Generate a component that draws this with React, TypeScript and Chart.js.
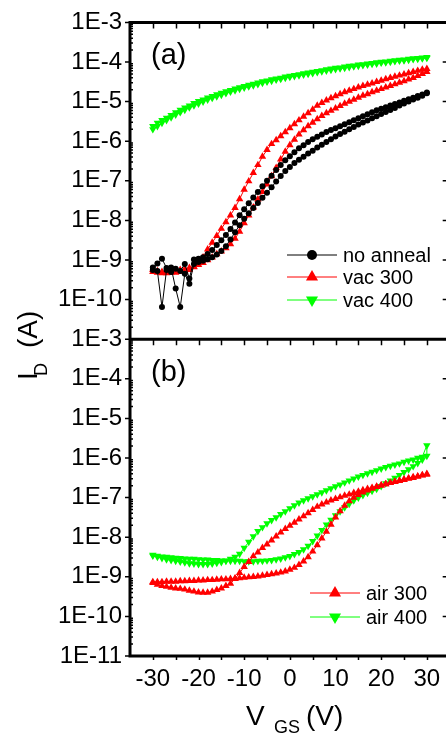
import React, { useEffect, useRef } from 'react';
import { Chart, registerables } from 'chart.js';

Chart.register(...registerables);

// Gate voltage sweep points (V)
const VGS = [
  -30, -29, -28, -27, -26, -25, -24, -23, -22, -21,
  -20, -19, -18, -17, -16, -15, -14, -13, -12, -11,
  -10, -9, -8, -7, -6, -5, -4, -3, -2, -1,
  0, 1, 2, 3, 4, 5, 6, 7, 8, 9,
  10, 11, 12, 13, 14, 15, 16, 17, 18, 19,
  20, 21, 22, 23, 24, 25, 26, 27, 28, 29,
  30,
];

// Axis ticks
const X_TICKS = [-30, -20, -10, 0, 10, 20, 30];
const X_TICK_MARKS = [-30, -25, -20, -15, -10, -5, 0, 5, 10, 15, 20, 25, 30];
const Y_DECADES = [1e-11, 1e-10, 1e-9, 1e-8, 1e-7, 1e-6, 1e-5, 1e-4, 1e-3];
const MINOR_MULT = [2, 3, 4, 5, 6, 7, 8, 9];

// Panel (a): log10(I_D / A), forward (-30 -> 30) and reverse (30 -> -30), indexed by VGS
const noAnnealFwdLog = [
  -9.19, -9.28, -10.19, -9.25, -9.19, -9.72, -10.19, -9.35, -9.6, -9.1,
  -9.05, -9.02, -8.98, -8.93, -8.86, -8.77, -8.65, -8.48, -8.3, -8.12,
  -7.96, -7.82, -7.69, -7.56, -7.43, -7.3, -7.16, -7.02, -6.88, -6.75,
  -6.65, -6.55, -6.47, -6.39, -6.31, -6.24, -6.16, -6.09, -6.02, -5.95,
  -5.88, -5.82, -5.76, -5.7, -5.64, -5.58, -5.53, -5.48, -5.42, -5.37,
  -5.31, -5.26, -5.21, -5.16, -5.1, -5.05, -5.0, -4.95, -4.9, -4.85,
  -4.79,
];
const noAnnealRevLog = [
  -9.25, -9.09, -8.97, -9.2, -9.3, -9.22, -9.28, -9.1, -9.47, -8.99,
  -8.97, -8.93, -8.85, -8.75, -8.62, -8.5, -8.37, -8.22, -8.05, -7.87,
  -7.72, -7.57, -7.42, -7.28, -7.14, -7.0, -6.87, -6.73, -6.6, -6.48,
  -6.38, -6.28, -6.18, -6.1, -6.02, -5.95, -5.89, -5.83, -5.77, -5.72,
  -5.67, -5.62, -5.57, -5.52, -5.47, -5.42, -5.37, -5.32, -5.27, -5.22,
  -5.18, -5.14, -5.1, -5.06, -5.02, -4.98, -4.94, -4.9, -4.86, -4.82,
  -4.77,
];
const vac300FwdLog = [
  -9.25, -9.28, -9.3, -9.3, -9.28, -9.27, -9.25, -9.23, -9.2, -9.17,
  -9.12, -9.07, -9.0, -8.93, -8.85, -8.78, -8.7, -8.6, -8.46, -8.28,
  -8.07, -7.87, -7.67, -7.47, -7.28, -7.09, -6.88, -6.67, -6.46, -6.26,
  -6.1, -5.96, -5.83, -5.72, -5.62, -5.53, -5.44, -5.36, -5.29, -5.23,
  -5.17, -5.11, -5.05, -5.0, -4.95, -4.9, -4.85, -4.81, -4.76, -4.72,
  -4.68, -4.64, -4.6, -4.56, -4.52, -4.48, -4.44, -4.4, -4.35, -4.3,
  -4.25,
];
const vac300RevLog = [
  -9.3, -9.32, -9.33, -9.33, -9.32, -9.32, -9.3, -9.28, -9.25, -9.18,
  -9.08, -8.93, -8.73, -8.56, -8.39, -8.21, -8.04, -7.87, -7.68, -7.46,
  -7.22, -7.01, -6.8, -6.6, -6.39, -6.22, -6.07, -5.97, -5.87, -5.77,
  -5.67, -5.57, -5.47, -5.38, -5.29, -5.2, -5.1, -5.03, -4.97, -4.91,
  -4.86, -4.81, -4.76, -4.72, -4.68, -4.64, -4.6, -4.57, -4.54, -4.5,
  -4.47, -4.43, -4.4, -4.37, -4.34, -4.31, -4.28, -4.25, -4.22, -4.19,
  -4.17,
];
const vac400FwdLog = [
  -5.62, -5.54, -5.47, -5.41, -5.34, -5.27, -5.21, -5.15, -5.1, -5.04,
  -4.99, -4.95, -4.9, -4.86, -4.82, -4.78, -4.74, -4.71, -4.67, -4.64,
  -4.61, -4.58, -4.55, -4.52, -4.49, -4.47, -4.44, -4.42, -4.4, -4.37,
  -4.35, -4.33, -4.31, -4.29, -4.27, -4.25, -4.23, -4.21, -4.19, -4.17,
  -4.15, -4.14, -4.12, -4.1, -4.09, -4.07, -4.06, -4.04, -4.03, -4.01,
  -4.0, -3.99, -3.97, -3.96, -3.95, -3.94, -3.92, -3.91, -3.9, -3.89,
  -3.88,
];
const vac400RevLog = [
  -5.7, -5.62, -5.54, -5.47, -5.4, -5.33, -5.27, -5.21, -5.15, -5.1,
  -5.05, -5.0, -4.95, -4.91, -4.87, -4.83, -4.79, -4.75, -4.72, -4.68,
  -4.65, -4.62, -4.59, -4.56, -4.53, -4.5, -4.48, -4.45, -4.43, -4.4,
  -4.38, -4.36, -4.34, -4.32, -4.3, -4.28, -4.26, -4.24, -4.22, -4.2,
  -4.18, -4.16, -4.15, -4.13, -4.11, -4.1, -4.08, -4.07, -4.05, -4.04,
  -4.02, -4.01, -4.0, -3.98, -3.97, -3.96, -3.95, -3.93, -3.92, -3.91,
  -3.9,
];

// Panel (b)
const air300FwdLog = [
  -9.13, -9.13, -9.13, -9.12, -9.12, -9.12, -9.11, -9.11, -9.1, -9.1,
  -9.09, -9.09, -9.08, -9.08, -9.07, -9.06, -9.06, -9.05, -9.04, -9.03,
  -9.02, -9.01, -9.0, -8.99, -8.97, -8.95, -8.93, -8.91, -8.89, -8.86,
  -8.82, -8.77, -8.7, -8.61, -8.5, -8.36, -8.2, -8.03, -7.86, -7.68,
  -7.5, -7.34, -7.2, -7.09, -7.0, -6.93, -6.87, -6.82, -6.77, -6.73,
  -6.69, -6.66, -6.63, -6.6, -6.57, -6.54, -6.51, -6.48, -6.46, -6.43,
  -6.4,
];
const air300RevLog = [
  -9.15, -9.2, -9.23, -9.25, -9.27, -9.29, -9.3, -9.32, -9.35, -9.37,
  -9.39, -9.4, -9.4, -9.37, -9.33, -9.29, -9.23, -9.17, -9.05, -8.9,
  -8.75, -8.62, -8.48, -8.38, -8.27, -8.18, -8.08, -7.98, -7.88, -7.79,
  -7.71, -7.63, -7.55, -7.47, -7.39, -7.31, -7.23, -7.17, -7.12, -7.07,
  -7.03, -6.99, -6.95, -6.92, -6.88, -6.85, -6.81, -6.78, -6.75, -6.72,
  -6.69, -6.66, -6.63, -6.6, -6.58, -6.55, -6.52, -6.5, -6.47, -6.44,
  -6.42,
];
const air400FwdLog = [
  -8.45, -8.47, -8.49, -8.5, -8.51, -8.52, -8.53, -8.54, -8.55, -8.55,
  -8.56, -8.57, -8.57, -8.58, -8.58, -8.59, -8.59, -8.6, -8.6, -8.6,
  -8.61, -8.61, -8.61, -8.6, -8.6, -8.59, -8.58, -8.56, -8.54, -8.51,
  -8.48, -8.43, -8.38, -8.31, -8.22, -8.1, -7.96, -7.82, -7.68, -7.56,
  -7.45, -7.35, -7.25, -7.16, -7.07, -7.0, -6.94, -6.88, -6.83, -6.78,
  -6.71, -6.64, -6.57, -6.5, -6.43, -6.36, -6.29, -6.21, -6.13, -6.04,
  -5.95,
];
const air400RevLog = [
  -8.47, -8.5, -8.53, -8.56, -8.58, -8.6, -8.62, -8.64, -8.66, -8.67,
  -8.68, -8.68, -8.68, -8.67, -8.65, -8.63, -8.6, -8.55, -8.5, -8.42,
  -8.27, -8.12, -7.98, -7.85, -7.75, -7.65, -7.57, -7.5, -7.42, -7.35,
  -7.27, -7.2, -7.13, -7.07, -7.02, -6.97, -6.92, -6.87, -6.82, -6.77,
  -6.72, -6.67, -6.62, -6.57, -6.52, -6.47, -6.43, -6.39, -6.35, -6.31,
  -6.27, -6.23, -6.2, -6.17, -6.14, -6.1, -6.07, -6.04, -6.0, -5.97,
  -5.68,
];

const FONT = "'Liberation Sans', Arial, Helvetica, sans-serif";
const BLACK = '#000000';
const RED = '#ff0000';
const GREEN = '#00ff00';

function sweep(fwd: number[], rev: number[]) {
  const pts: { x: number; y: number }[] = [];
  for (let i = 0; i < VGS.length; i++) pts.push({ x: VGS[i], y: Math.pow(10, fwd[i]) });
  for (let i = VGS.length - 1; i >= 0; i--) pts.push({ x: VGS[i], y: Math.pow(10, rev[i]) });
  return pts;
}

function marker(ctx: CanvasRenderingContext2D, style: string, rot: number, x: number, y: number, r: number, color: string) {
  ctx.save();
  ctx.fillStyle = color;
  ctx.beginPath();
  if (style === 'circle') {
    ctx.arc(x, y, r, 0, Math.PI * 2);
  } else {
    let a = (rot * Math.PI) / 180;
    ctx.moveTo(x + Math.sin(a) * r, y - Math.cos(a) * r);
    a += (2 * Math.PI) / 3;
    ctx.lineTo(x + Math.sin(a) * r, y - Math.cos(a) * r);
    a += (2 * Math.PI) / 3;
    ctx.lineTo(x + Math.sin(a) * r, y - Math.cos(a) * r);
    ctx.closePath();
  }
  ctx.fill();
  ctx.restore();
}

function legendRow(ctx: CanvasRenderingContext2D, x0: number, x1: number, y: number, color: string, style: string, rot: number, r: number, label: string, tx: number) {
  ctx.save();
  ctx.strokeStyle = color;
  ctx.lineWidth = 1;
  ctx.beginPath();
  ctx.moveTo(x0, y);
  ctx.lineTo(x1, y);
  ctx.stroke();
  marker(ctx, style, rot, (x0 + x1) / 2, y, r, color);
  ctx.fillStyle = '#000';
  ctx.font = `20px ${FONT}`;
  ctx.textAlign = 'left';
  ctx.textBaseline = 'middle';
  ctx.fillText(label, tx, y + 1);
  ctx.restore();
}

const framePlugin = {
  id: 'frame',
  afterDraw(chart: any) {
    const { ctx, chartArea: a, scales } = chart;
    const xs = scales.x;
    const ya = scales.ya;
    const yb = scales.yb;
    const mid = Math.min(ya.bottom, yb.bottom);
    ctx.save();
    ctx.strokeStyle = '#000';
    ctx.lineWidth = 1.5;
    ctx.beginPath();
    for (const v of X_TICK_MARKS) {
      const px = Math.round(xs.getPixelForValue(v)) + 0.5;
      ctx.moveTo(px, a.top);
      ctx.lineTo(px, a.top + 6);
      ctx.moveTo(px, mid);
      ctx.lineTo(px, mid + 6);
      ctx.moveTo(px, a.bottom);
      ctx.lineTo(px, a.bottom + 4);
    }
    for (const s of [ya, yb]) {
      for (const d of Y_DECADES) {
        const py = s.getPixelForValue(d);
        ctx.moveTo(a.left - 5, py);
        ctx.lineTo(a.left, py);
        ctx.moveTo(a.right - 7, py);
        ctx.lineTo(a.right, py);
        if (d < 1e-3) {
          for (const m of MINOR_MULT) {
            const pm = s.getPixelForValue(m * d);
            ctx.moveTo(a.left, pm);
            ctx.lineTo(a.left + 3, pm);
          }
        }
      }
    }
    ctx.stroke();

    ctx.lineWidth = 3;
    ctx.beginPath();
    ctx.moveTo(a.left, a.top);
    ctx.lineTo(a.left, a.bottom);
    ctx.moveTo(a.left - 1.5, a.top);
    ctx.lineTo(a.right, a.top);
    ctx.moveTo(a.left - 1.5, mid);
    ctx.lineTo(a.right, mid);
    ctx.moveTo(a.left - 1.5, a.bottom);
    ctx.lineTo(a.right, a.bottom);
    ctx.moveTo(a.right, a.top);
    ctx.lineTo(a.right, a.bottom);
    ctx.stroke();

    // panel labels
    ctx.fillStyle = '#000';
    ctx.font = `29px ${FONT}`;
    ctx.textAlign = 'left';
    ctx.textBaseline = 'middle';
    ctx.fillText('(a)', 151, a.top + 34);
    ctx.fillText('(b)', 151, mid + 34);

    // legends
    legendRow(ctx, 287, 337, 255, BLACK, 'circle', 0, 5, 'no anneal', 343);
    legendRow(ctx, 287, 337, 277, RED, 'triangle', 0, 7, 'vac 300', 343);
    legendRow(ctx, 287, 337, 300, GREEN, 'triangle', 180, 7, 'vac 400', 343);
    legendRow(ctx, 310, 360, 593, RED, 'triangle', 0, 7, 'air 300', 366);
    legendRow(ctx, 310, 360, 617, GREEN, 'triangle', 180, 7, 'air 400', 366);

    // y title: I_D (A)
    ctx.save();
    ctx.translate(37, 380);
    ctx.rotate(-Math.PI / 2);
    ctx.textBaseline = 'alphabetic';
    ctx.textAlign = 'left';
    ctx.font = `28px ${FONT}`;
    ctx.fillText('I', 0, 0);
    ctx.font = `18px ${FONT}`;
    ctx.fillText('D', 4, 10);
    ctx.font = `28px ${FONT}`;
    ctx.fillText('(A)', 32, 0);
    ctx.restore();

    // x title: V_GS (V)
    ctx.textBaseline = 'alphabetic';
    ctx.font = `28px ${FONT}`;
    ctx.fillText('V', 246, 725);
    ctx.font = `18px ${FONT}`;
    ctx.fillText('GS', 274, 733);
    ctx.font = `28px ${FONT}`;
    ctx.fillText('(V)', 306, 725);
    ctx.restore();
  },
};

function yScale(hideBottom: boolean, weight: number) {
  return {
    type: 'logarithmic' as const,
    position: 'left' as const,
    stack: 'panels',
    stackWeight: 1,
    weight,
    min: 1e-11,
    max: 1e-3,
    afterBuildTicks: (s: any) => {
      s.ticks = Y_DECADES.map((v) => ({ value: v }));
    },
    afterFit: (s: any) => {
      s.width = 130;
    },
    grid: { display: false, drawTicks: false },
    border: { display: false },
    ticks: {
      autoSkip: false,
      padding: 8,
      color: '#000',
      font: { family: FONT, size: 24 },
      callback: (v: any) => {
        const e = Math.round(Math.log10(Number(v)));
        if (hideBottom && e === -11) return '';
        return `1E${e}`;
      },
    },
  };
}

export default function App() {
  const ref = useRef<HTMLCanvasElement>(null);
  useEffect(() => {
    document.body.style.margin = '0';
    document.body.style.overflow = 'hidden';
    const canvas = ref.current;
    if (!canvas) return;
    const ds = (label: string, fwd: number[], rev: number[], color: string, style: string, rot: number, r: number, axis: string) => ({
      label,
      data: sweep(fwd, rev),
      yAxisID: axis,
      borderColor: color,
      backgroundColor: color,
      borderWidth: 1,
      pointStyle: style,
      pointRotation: rot,
      pointRadius: r,
      pointBackgroundColor: color,
      pointBorderColor: color,
      pointBorderWidth: 0,
      tension: 0,
      fill: false,
    });
    const chart = new Chart(canvas, {
      type: 'line',
      data: {
        datasets: [
          ds('no anneal', noAnnealFwdLog, noAnnealRevLog, BLACK, 'circle', 0, 3, 'ya'),
          ds('vac 300', vac300FwdLog, vac300RevLog, RED, 'triangle', 0, 4.3, 'ya'),
          ds('vac 400', vac400FwdLog, vac400RevLog, GREEN, 'triangle', 180, 4.3, 'ya'),
          ds('air 300', air300FwdLog, air300RevLog, RED, 'triangle', 0, 4.3, 'yb'),
          ds('air 400', air400FwdLog, air400RevLog, GREEN, 'triangle', 180, 4.3, 'yb'),
        ] as any,
      },
      options: {
        responsive: false,
        maintainAspectRatio: false,
        animation: false,
        devicePixelRatio: 1,
        layout: { padding: { top: 17, right: 3, bottom: 0, left: 0 } },
        plugins: { legend: { display: false }, tooltip: { enabled: false } },
        scales: {
          x: {
            type: 'linear',
            position: 'bottom',
            min: -35,
            max: 35,
            afterBuildTicks: (s: any) => {
              s.ticks = X_TICKS.map((v) => ({ value: v }));
            },
            afterFit: (s: any) => {
              s.height = 79;
            },
            grid: { display: false, drawTicks: false },
            border: { display: false },
            ticks: {
              autoSkip: false,
              maxRotation: 0,
              padding: 9,
              color: '#000',
              font: { family: FONT, size: 24 },
              callback: (v: any) => String(v),
            },
          },
          ya: yScale(true, 1),
          yb: yScale(false, 0),
        } as any,
      },
      plugins: [framePlugin],
    });
    return () => chart.destroy();
  }, []);
  return (
    <div style={{ position: 'relative', width: 446, height: 735, overflow: 'hidden' }}>
      <canvas ref={ref} width={454} height={735} style={{ display: 'block', width: 454, height: 735 }} />
    </div>
  );
}
